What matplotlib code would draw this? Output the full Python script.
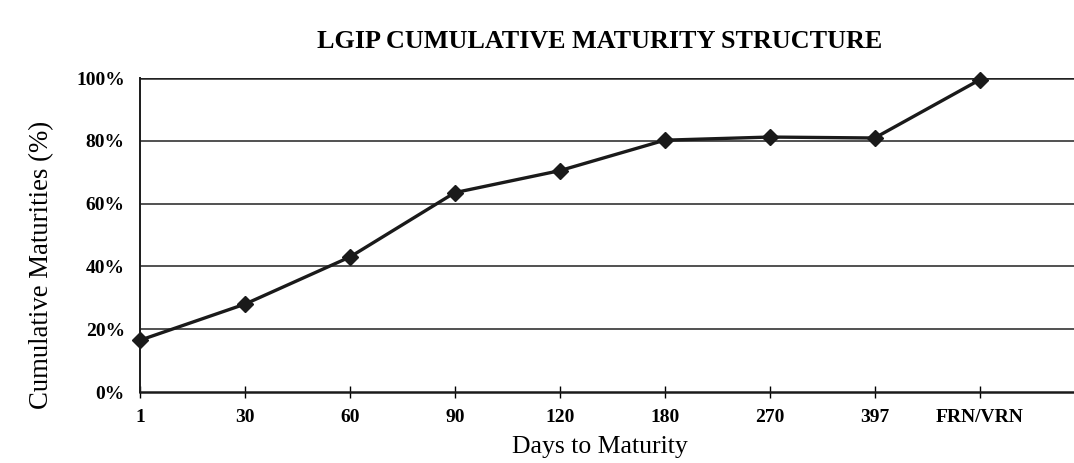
import matplotlib
matplotlib.use("Agg")
import matplotlib.pyplot as plt
from matplotlib.ticker import FuncFormatter

categories = ["1", "30", "60", "90", "120", "180", "270", "397", "FRN/VRN"]
cumulative_pct = [16.5, 28.0, 43.0, 63.5, 70.5, 80.2, 81.2, 80.9, 99.4]
yticks = [0, 20, 40, 60, 80, 100]

plt.rcParams['font.family'] = ['Liberation Serif', 'DejaVu Serif']

fig = plt.figure(figsize=(10.74, 4.63), dpi=100)
ax = fig.add_axes([0.1304, 0.1533, 0.8696, 0.6782])

x = list(range(len(categories)))
ax.plot(x, cumulative_pct, color='#1a1a1a', lw=2.4, marker='D', ms=8,
        markerfacecolor='#1a1a1a', markeredgecolor='#1a1a1a', zorder=3, clip_on=False)

ax.set_xlim(0, 8.9)
ax.set_ylim(0, 100)
ax.set_yticks(yticks)
ax.yaxis.set_major_formatter(FuncFormatter(lambda v, p: f"{int(v)}%"))
ax.set_xticks(x)
ax.set_xticklabels(categories)

for yv in yticks[1:]:
    ax.axhline(yv, color='#222222', lw=1.8 if yv == 100 else 1.1, zorder=1)

for side in ['top', 'right']:
    ax.spines[side].set_visible(False)
ax.spines['left'].set_linewidth(1.4)
ax.spines['bottom'].set_linewidth(1.8)
ax.spines['left'].set_color('#1a1a1a')
ax.spines['bottom'].set_color('#1a1a1a')

ax.tick_params(axis='x', direction='inout', length=8, width=1.0, pad=8, labelsize=14)
ax.tick_params(axis='y', length=0, pad=11, labelsize=14)
for lab in ax.get_xticklabels() + ax.get_yticklabels():
    lab.set_fontweight('bold')

ax.set_xlabel("Days to Maturity", fontsize=18.5, va='center')
ax.xaxis.set_label_coords(0.4925, -0.175)
ax.set_ylabel("Cumulative Maturities (%)", fontsize=19.3, va='center')
ax.yaxis.set_label_coords(-0.105, 0.405)
fig.text(0.558, 0.91, "LGIP CUMULATIVE MATURITY STRUCTURE", ha='center', va='center',
         fontsize=18.8, fontweight='bold')

fig.savefig("out.png", dpi=100)
